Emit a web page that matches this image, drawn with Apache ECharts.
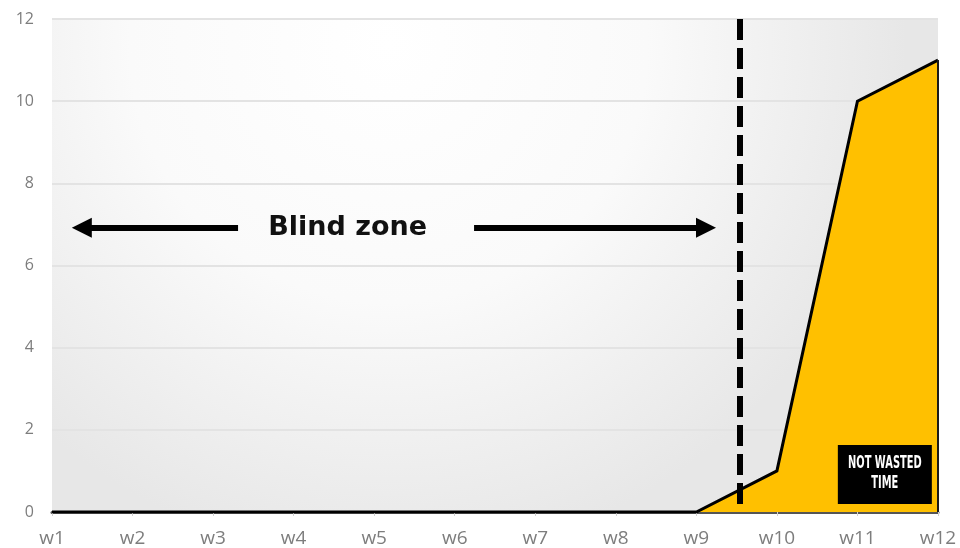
<!DOCTYPE html>
<html>
<head>
<meta charset="utf-8">
<script src="https://cdn.jsdelivr.net/npm/echarts@6/dist/echarts.min.js"></script>
<style>
  html, body { margin: 0; padding: 0; background: #ffffff; }
  #chart { width: 960px; height: 548px; }
</style>
</head>
<body>
<div id="chart"></div>
<script>
// Weekly counts
const weeks = ['w1', 'w2', 'w3', 'w4', 'w5', 'w6', 'w7', 'w8', 'w9', 'w10', 'w11', 'w12'];
const counts = [0, 0, 0, 0, 0, 0, 0, 0, 0, 1, 10, 11];
const yTicks = [0, 2, 4, 6, 8, 10, 12];

// Annotation anchors (in axis units)
const cutoffWeek = 8.54;         // end of the blind zone, between w9 and w10
const arrowLevel = 6.92;
const leftArrow = [2.31, 0.37];  // tail -> head
const rightArrow = [5.24, 8.12]; // tail -> head
const blindLabelAt = [3.67, 6.92];
const boxAt = [10.34, 0.91];

const chart = echarts.init(document.getElementById('chart'));
const lastIdx = counts.length - 1;

chart.setOption({
  animation: false,
  backgroundColor: '#ffffff',
  grid: {
    left: 52, right: 22, top: 19, bottom: 34,
    show: true,
    borderWidth: 0,
    backgroundColor: {
      type: 'radial', x: 0.38, y: 0.05, r: 1.05,
      colorStops: [
        { offset: 0, color: '#ffffff' },
        { offset: 0.5, color: '#fafafa' },
        { offset: 1, color: '#e7e7e7' }
      ]
    }
  },
  xAxis: {
    type: 'value',
    min: 0, max: weeks.length - 1, interval: 1,
    axisLine: { show: true, onZero: false, lineStyle: { color: '#555555', width: 3 } },
    axisTick: { show: true, length: 4, lineStyle: { color: '#d0d0d0' } },
    splitLine: { show: false },
    axisLabel: {
      margin: 17,
      color: '#7d7d7d',
      fontSize: 19,
      fontFamily: 'Open Sans, sans-serif',
      formatter: v => weeks[v] || ''
    }
  },
  yAxis: {
    type: 'value',
    min: yTicks[0], max: yTicks[yTicks.length - 1], interval: 2,
    axisLine: { show: false },
    axisTick: { show: false },
    splitLine: { lineStyle: { color: '#e3e3e3', width: 2 } },
    axisLabel: {
      margin: 18,
      color: '#7d7d7d',
      fontSize: 16,
      fontFamily: 'Open Sans, sans-serif'
    }
  },
  series: [
    {
      type: 'line',
      data: counts.map((v, i) => [i, v]),
      symbol: 'none',
      z: 3,
      lineStyle: { color: '#000000', width: 3, join: 'miter' },
      areaStyle: { color: '#FFC000', opacity: 1 },
      markLine: {
        silent: true,
        symbol: ['none', 'none'],
        label: { show: false },
        lineStyle: { color: '#1a1a1a', width: 2, type: 'solid' },
        data: [[{ coord: [lastIdx, 0] }, { coord: [lastIdx, counts[lastIdx]] }]]
      }
    },
    {
      // cutoff marker
      type: 'line',
      data: [],
      z: 6,
      markLine: {
        silent: true,
        animation: false,
        label: { show: false },
        symbol: ['none', 'none'],
        lineStyle: { color: '#000000', width: 6, type: [21, 8], cap: 'butt' },
        data: [[{ coord: [cutoffWeek, yTicks[yTicks.length - 1]] }, { coord: [cutoffWeek, 0] }]]
      }
    },
    {
      // arrows, caption and the black box
      type: 'line',
      data: [],
      z: 6,
      markLine: {
        silent: true,
        animation: false,
        label: { show: false },
        symbol: ['none', 'triangle'],
        symbolSize: [20, 20],
        lineStyle: { color: '#000000', width: 6, type: 'solid', cap: 'butt' },
        itemStyle: { color: '#000000' },
        data: [
          [{ coord: [leftArrow[0], arrowLevel] }, { coord: [leftArrow[1], arrowLevel] }],
          [{ coord: [rightArrow[0], arrowLevel] }, { coord: [rightArrow[1], arrowLevel] }]
        ]
      },
      markPoint: {
        silent: true,
        animation: false,
        data: [
          {
            coord: blindLabelAt,
            symbol: 'rect', symbolSize: 1,
            itemStyle: { color: 'rgba(0,0,0,0)' },
            label: {
              show: true, position: 'inside',
              formatter: 'Blind zone',
              color: '#111111',
              fontSize: 27,
              fontWeight: 'bold',
              fontFamily: 'DejaVu Sans, sans-serif'
            }
          },
          {
            coord: boxAt,
            symbol: 'rect', symbolSize: [94, 59],
            itemStyle: { color: '#000000' },
            label: { show: false }
          }
        ]
      }
    }
  ]
});

// Condensed caption inside the black box
const boxPx = chart.convertToPixel({ seriesIndex: 0 }, boxAt);
chart.setOption({
  graphic: [{
    type: 'text',
    x: boxPx[0],
    y: boxPx[1] - 1,
    scaleX: 0.58,
    z: 100,
    silent: true,
    style: {
      text: 'NOT WASTED\nTIME',
      fill: '#ffffff',
      font: 'bold 17px "DejaVu Sans", sans-serif',
      lineHeight: 20,
      align: 'center',
      verticalAlign: 'middle'
    }
  }]
});
</script>
</body>
</html>
